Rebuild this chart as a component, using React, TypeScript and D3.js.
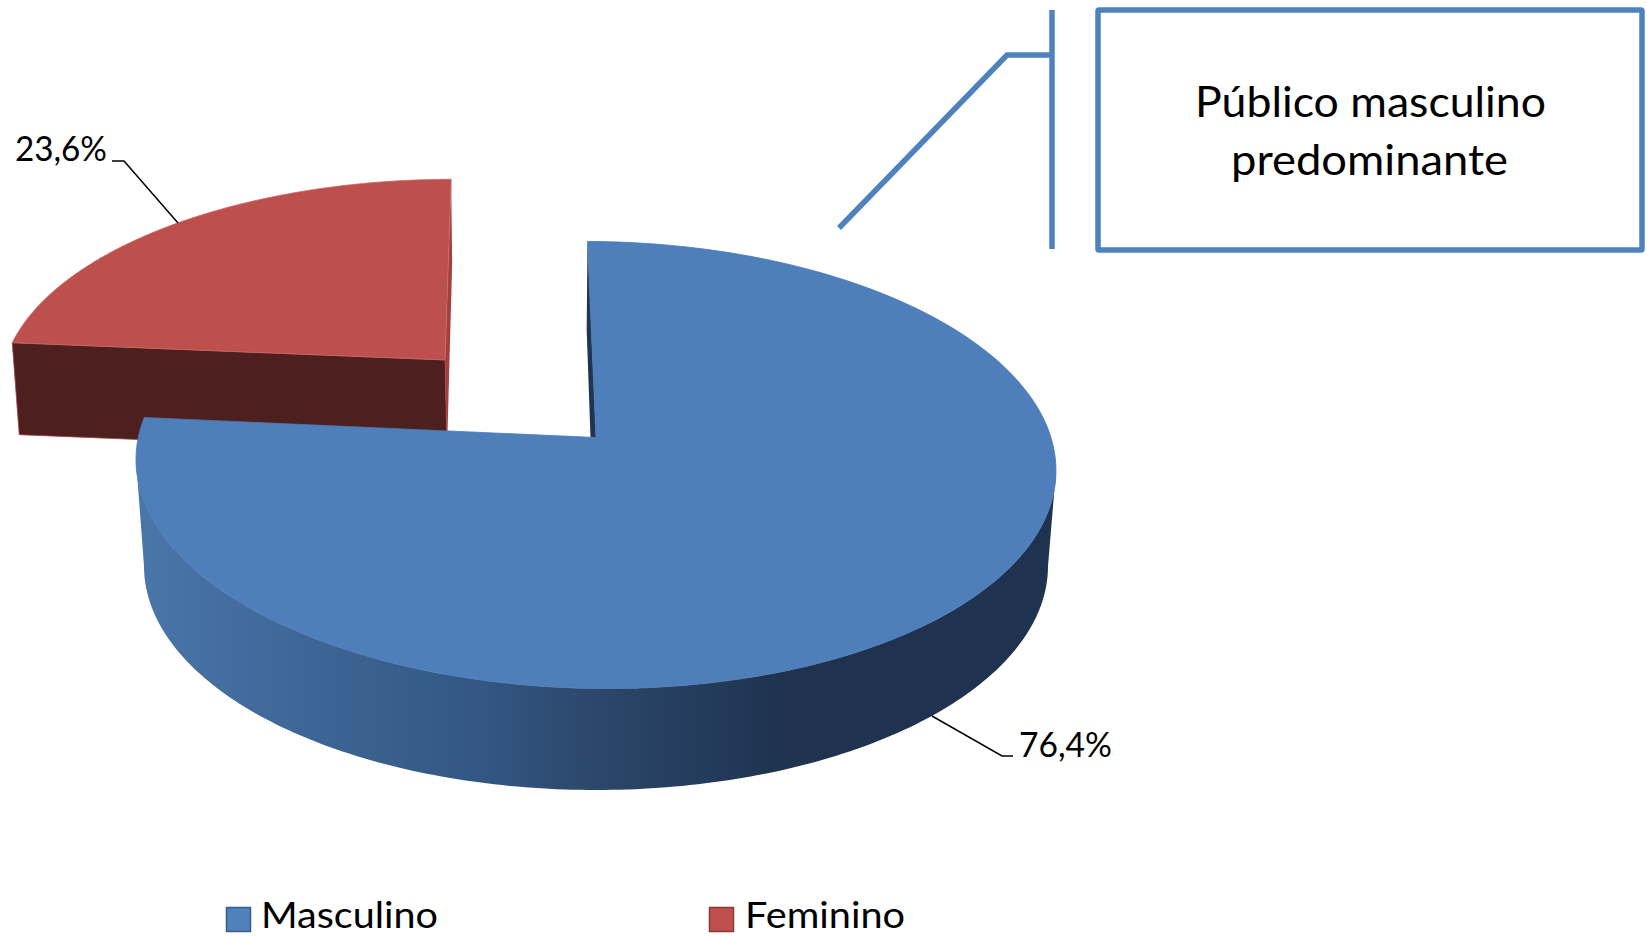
import React from "react";
import * as d3 from "d3";

const categories = ["Masculino", "Feminino"];
const shares = [76.4, 23.6];
const shareLabels = ["76,4%", "23,6%"];
const faceColors = ["#4f81bd", "#c0504d"];
const edgeColors = ["#385d8a", "#8c3836"];
const calloutLines = ["Público masculino", "predominante"];

const FONT = "Lato, Carlito, 'Open Sans', sans-serif";
const angle = d3.scaleLinear().domain([0, 100]).range([0, 360]);
const TILT = 0.123;

type Disc = { cx: number; cy: number; rx: number; ry: number; rot: number; shear: number };
const blueDisc: Disc = { cx: 596, cy: 465, rx: 460, ry: 223.5, rot: -1.2, shear: 0.012 };
const redDisc: Disc = { cx: 445, cy: 385.3, rx: 444, ry: 206, rot: 0.9, shear: -0.008 };

// perspective projection of a point on the pie's rim; the pie centre sits off the ellipse's centre
const rim = (d: Disc, deg: number): [number, number] => {
  const a = ((deg + d.rot) * Math.PI) / 180;
  const X = Math.sin(a);
  const Y = Math.cos(a);
  const k = 1 + TILT * Y;
  const px = (X * Math.sqrt(1 - TILT * TILT)) / k;
  const py = (Y + TILT) / k;
  return [d.cx + px * d.rx, d.cy - py * d.ry + d.shear * px * d.rx];
};
const apex = (d: Disc): [number, number] => [d.cx, d.cy - TILT * d.ry];
const line = d3.line<[number, number]>();

const sweep = (d: Disc, from: number, to: number) =>
  d3.range(0, 181).map((i) => rim(d, from + ((to - from) * i) / 180));

const slicePath = (d: Disc, from: number, to: number) =>
  line([apex(d), ...sweep(d, from, to)])! + "Z";

const blueEnd = angle(shares[0]);
const redEnd = blueEnd + angle(shares[1]);

// lower edge of the blue drum
const wallBottom = { cx: 596, cy: 566, rx: 452, ry: 224, shear: 0 };
const ellipseFront = (e: typeof wallBottom, from: number, to: number) =>
  d3.range(0, 181).map((i): [number, number] => {
    const t = ((from + ((to - from) * i) / 180) * Math.PI) / 180;
    const dx = e.rx * Math.sin(t);
    return [e.cx + dx, e.cy - e.ry * Math.cos(t) + e.shear * dx];
  });
const topFront = { cx: blueDisc.cx, cy: blueDisc.cy, rx: blueDisc.rx, ry: blueDisc.ry, shear: blueDisc.shear };
const blueWall =
  line([...ellipseFront(topFront, 90, 270), ...ellipseFront(wallBottom, 270, 90)])! + "Z";

const blueStart = rim(blueDisc, 0);
const blueApex = apex(blueDisc);
const blueSliver = line([
  blueStart,
  [blueStart[0] - 0.8, blueStart[1] + 89],
  [blueApex[0] - 5.5, blueApex[1]],
  blueApex,
])! + "Z";

const redLeft = rim(redDisc, blueEnd);
const redRight = rim(redDisc, redEnd);
const redApex = apex(redDisc);
const redWall = line([
  redLeft,
  redApex,
  [redApex[0] + 2, redApex[1] + 92],
  [redLeft[0] + 7, redLeft[1] + 92],
])! + "Z";
const redSliver = line([
  redRight,
  [redRight[0] + 1, redRight[1] + 84],
  [redApex[0] + 2, redApex[1] + 92],
  redApex,
])! + "Z";

const Label = ({ x, y, w, size, children }: any) => (
  <text x={x} y={y} textLength={w} lengthAdjust="spacingAndGlyphs" fontSize={size} fontFamily={FONT} fill="#000">
    {children}
  </text>
);

export default function App() {
  return (
    <svg width={1647} height={936} style={{ position: "fixed", left: 0, top: 0, background: "#fff" }}>
      <defs>
        <linearGradient id="wallGrad" gradientUnits="userSpaceOnUse" x1={136} x2={1056} y1={0} y2={0}>
          <stop offset="0.01" stopColor="#4a75a8" />
          <stop offset="0.164" stopColor="#3e6898" />
          <stop offset="0.38" stopColor="#335683" />
          <stop offset="0.49" stopColor="#2c486c" />
          <stop offset="0.7" stopColor="#1f3350" />
          <stop offset="1" stopColor="#1f3350" />
        </linearGradient>
      </defs>

      {/* red slice */}
      <path d={redWall} fill="#4d1f1e" stroke="#a5403f" strokeWidth={0.8} />
      <path d={redSliver} fill="#a5403f" />
      <path d={slicePath(redDisc, blueEnd, redEnd)} fill="#bd4f4c" stroke="#c46b69" strokeWidth={0.8} />

      {/* blue slice */}
      <path d={blueWall} fill="url(#wallGrad)" />
      <path d={blueSliver} fill="#1f3552" />
      <path d={slicePath(blueDisc, 0, blueEnd)} fill="#4f7fbb" stroke="#4a79b3" strokeWidth={0.8} />

      {/* data labels */}
      <path d="M112,161H124L178,223" fill="none" stroke="#000" strokeWidth={1.5} />
      <path d="M932,716L1002,756H1013" fill="none" stroke="#000" strokeWidth={1.5} />
      <Label x={15} y={161} w={92} size={34}>{shareLabels[1]}</Label>
      <Label x={1019} y={757} w={93} size={34}>{shareLabels[0]}</Label>

      {/* callout */}
      <path d="M839,228L1007,55H1052M1052,10V249" fill="none" stroke="#4f81bd" strokeWidth={5.5} />
      <rect x={1098} y={10} width={544} height={240} fill="#fff" stroke="#4f81bd" strokeWidth={5.5} rx={1} />
      <Label x={1195} y={117} w={351} size={42}>{calloutLines[0]}</Label>
      <Label x={1231} y={175} w={277} size={42}>{calloutLines[1]}</Label>

      {/* legend */}
      <rect x={226.5} y={907.5} width={24} height={24} fill={faceColors[0]} stroke={edgeColors[0]} strokeWidth={1.5} />
      <Label x={261} y={928} w={177} size={36}>{categories[0]}</Label>
      <rect x={709.5} y={907.5} width={24} height={24} fill={faceColors[1]} stroke={edgeColors[1]} strokeWidth={1.5} />
      <Label x={745} y={928} w={160} size={36}>{categories[1]}</Label>
    </svg>
  );
}
